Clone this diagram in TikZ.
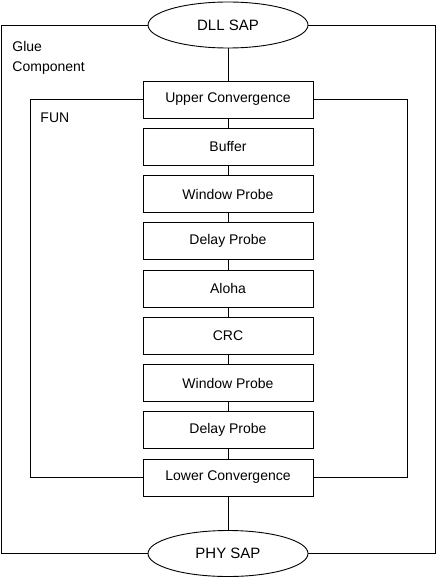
\documentclass[tikz,border=0pt]{standalone}
\usepackage{fontspec}
\setmainfont{Liberation Sans}
\usetikzlibrary{shapes.geometric}
\begin{document}
\begin{tikzpicture}[x=1bp,y=-1bp,line width=0.9bp,
  blk/.style={draw,rectangle,minimum width=170bp,minimum height=37bp,inner sep=0pt,font=\fontsize{14bp}{16bp}\selectfont},
  sap/.style={draw,ellipse,minimum width=160bp,minimum height=46bp,inner sep=0pt,font=\fontsize{15bp}{18bp}\selectfont},
  lbl/.style={anchor=west,inner sep=0pt,font=\fontsize{14bp}{20bp}\selectfont,align=left}]
\useasboundingbox (0,0) rectangle (437,578);
\node[sap] (dll) at (228,25) {DLL SAP};
\node[sap] (phy) at (228,553.5) {PHY SAP};
\node[blk] (uc) at (228,99.5) {Upper Convergence};
\node[blk] (buf) at (228,146.75) {Buffer};
\node[blk] (wp1) at (228,194) {Window Probe};
\node[blk] (dp1) at (228,241.25) {Delay Probe};
\node[blk] (alo) at (228,288.5) {Aloha};
\node[blk] (crc) at (228,335.75) {CRC};
\node[blk] (wp2) at (228,383) {Window Probe};
\node[blk] (dp2) at (228,430.25) {Delay Probe};
\node[blk] (lc) at (228,477.5) {Lower Convergence};
\node[lbl] (glue) at (12,58) {Glue\\Component};
\node[lbl] (fun) at (40,118) {FUN};
\coordinate (otl) at (1,25);
\coordinate (otr) at (435,25);
\coordinate (obl) at (1,553.5);
\coordinate (obr) at (435,553.5);
\coordinate (itl) at (30,99.5);
\coordinate (itr) at (407,99.5);
\coordinate (ibl) at (30,477.5);
\coordinate (ibr) at (407,477.5);
\draw (dll.west) -- (otl) -- (obl) -- (phy.west);
\draw (dll.east) -- (otr) -- (obr) -- (phy.east);
\draw (uc.west) -- (itl) -- (ibl) -- (lc.west);
\draw (uc.east) -- (itr) -- (ibr) -- (lc.east);
\draw (dll) -- (uc);
\draw (uc) -- (buf);
\draw (buf) -- (wp1);
\draw (wp1) -- (dp1);
\draw (dp1) -- (alo);
\draw (alo) -- (crc);
\draw (crc) -- (wp2);
\draw (wp2) -- (dp2);
\draw (dp2) -- (lc);
\draw (lc) -- (phy);
\end{tikzpicture}
\end{document}
